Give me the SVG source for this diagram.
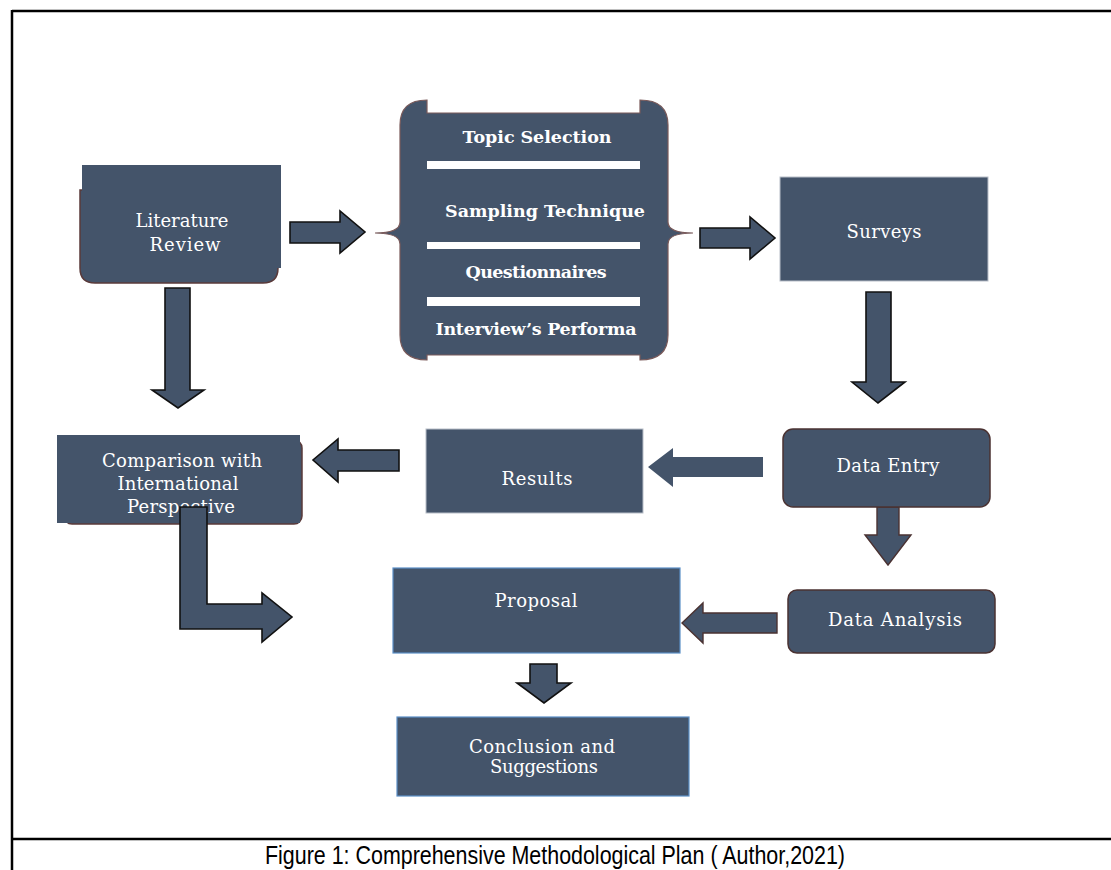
<svg xmlns="http://www.w3.org/2000/svg" width="1111" height="870" viewBox="0 0 1111 870">
<style>
.bg{fill:#ffffff}
.n{fill:#44546A}
.sh{fill:#44546A;stroke:#5a3a3a;stroke-width:1.5}
.g{fill:#44546A;stroke:#b8bec8;stroke-width:1}
.b{fill:#44546A;stroke:#5b8fc7;stroke-width:1.2}
.r{fill:#44546A;stroke:#4a3232;stroke-width:1.5}
.t{font-family:"DejaVu Serif","Liberation Serif",serif;font-size:18px;fill:#ffffff;text-anchor:middle}
.tb{font-family:"DejaVu Serif","Liberation Serif",serif;font-size:17.5px;font-weight:bold;fill:#ffffff;text-anchor:middle}
.bar{fill:#ffffff}
.ak{fill:#44546A;stroke:#111111;stroke-width:1.6;stroke-linejoin:miter}
.an{fill:#44546A}
.ab{fill:#44546A;stroke:#4a3232;stroke-width:1.4}
.frame{stroke:#000000;stroke-width:2.5;fill:none}
.cap{font-family:"Liberation Sans","Noto Sans",sans-serif;font-size:25px;fill:#000000;text-anchor:middle}
</style>
<rect class="bg" x="0" y="0" width="1111" height="870"/>
<g id="frame">
<line class="frame" x1="12" y1="11" x2="1111" y2="11"/>
<line class="frame" x1="12" y1="10" x2="12" y2="870"/>
<line class="frame" x1="12" y1="839" x2="1111" y2="839"/>
<text class="cap" x="555" y="864" textLength="580" lengthAdjust="spacingAndGlyphs">Figure 1:  Comprehensive Methodological Plan ( Author,2021)</text>
</g>
<g id="connectors">
<path class="ak" d="M290,222 H340 V211 L365,232 L340,253 V243 H290 Z"/>
<path class="ak" d="M165,288 H190 V390 H204 L178,408 L152,390 H165 Z"/>
<path class="ak" d="M700,228 H750 V217 L775,238 L750,259 V248 H700 Z"/>
<path class="ak" d="M866,292 H891 V382 H905 L878,403 L852,382 H866 Z"/>
<path class="an" d="M763,457 H673 V448 L648,467 L673,487 V477 H763 Z"/>
<path class="ab" d="M877,507 H899 V535 H911 L888,565 L865,535 H877 Z"/>
<path class="ab" d="M777,613 H703 V603 L682,623 L703,643 V633 H777 Z"/>
<path class="ak" d="M530,664 H557 V683 H571 L544,703 L517,683 H530 Z"/>
<path class="ak" d="M399,450 H338 V439 L313,460 L338,482 V471 H399 Z"/>
</g>
<g id="literature-review">
<path class="sh" d="M80,190 V268 Q80,283 95,283 H263 Q278,283 278,268 V190 Z"/>
<rect class="n" x="82" y="165" width="199" height="103"/>
<text class="t" x="182" y="227" textLength="93">Literature</text>
<text class="t" x="185" y="251" textLength="71">Review</text>
</g>
<g id="methods-brace">
<path fill="#44546A" stroke="#7a5a5a" stroke-width="1.2" d="M427,100 V113 H640 V100 Q668,100 668,125 V222 Q668,233 693,233 Q668,233 668,244 V335 Q668,360 640,360 V355 H427 V360 Q400,360 400,335 V244 Q400,233 375,233 Q400,233 400,222 V125 Q400,100 427,100 Z"/>
<rect class="bar" x="427" y="161" width="213" height="8"/>
<rect class="bar" x="427" y="242" width="213" height="7"/>
<rect class="bar" x="427" y="297" width="213" height="9"/>
<text class="tb" x="537" y="143" textLength="149">Topic Selection</text>
<text class="tb" x="545" y="217" textLength="200">Sampling Technique</text>
<text class="tb" x="536" y="278" textLength="141">Questionnaires</text>
<text class="tb" x="536" y="335" textLength="201">Interview’s Performa</text>
</g>
<g id="surveys">
<rect class="g" x="780" y="177" width="208" height="104"/>
<text class="t" x="884" y="238" textLength="75">Surveys</text>
</g>
<g id="data-entry">
<rect class="r" x="783" y="429" width="207" height="78" rx="10"/>
<text class="t" x="888" y="472" textLength="103">Data Entry</text>
</g>
<g id="results">
<rect class="g" x="426" y="429" width="217" height="84"/>
<text class="t" x="537" y="485" textLength="71">Results</text>
</g>
<g id="comparison">
<rect class="sh" x="64" y="440" width="238" height="84" rx="8"/>
<rect class="n" x="57" y="435" width="243" height="88"/>
<text class="t" x="182" y="467" textLength="160">Comparison with</text>
<text class="t" x="178" y="490" textLength="121">International</text>
<text class="t" x="181" y="513" textLength="108">Perspective</text>
</g>
<g id="bent-connector">
<path class="ak" d="M180,507 H207 V604 H262 V593 L292,617 L262,642 V629 H180 Z"/>
</g>
<g id="proposal">
<rect class="b" x="393" y="568" width="287" height="85"/>
<text class="t" x="536" y="607" textLength="83">Proposal</text>
</g>
<g id="data-analysis">
<rect class="r" x="788" y="590" width="207" height="63" rx="9"/>
<text class="t" x="895" y="626" textLength="134">Data Analysis</text>
</g>
<g id="conclusion">
<rect class="b" x="397" y="717" width="292" height="79"/>
<text class="t" x="542" y="753" textLength="146">Conclusion and</text>
<text class="t" x="544" y="773" textLength="108">Suggestions</text>
</g>
</svg>
